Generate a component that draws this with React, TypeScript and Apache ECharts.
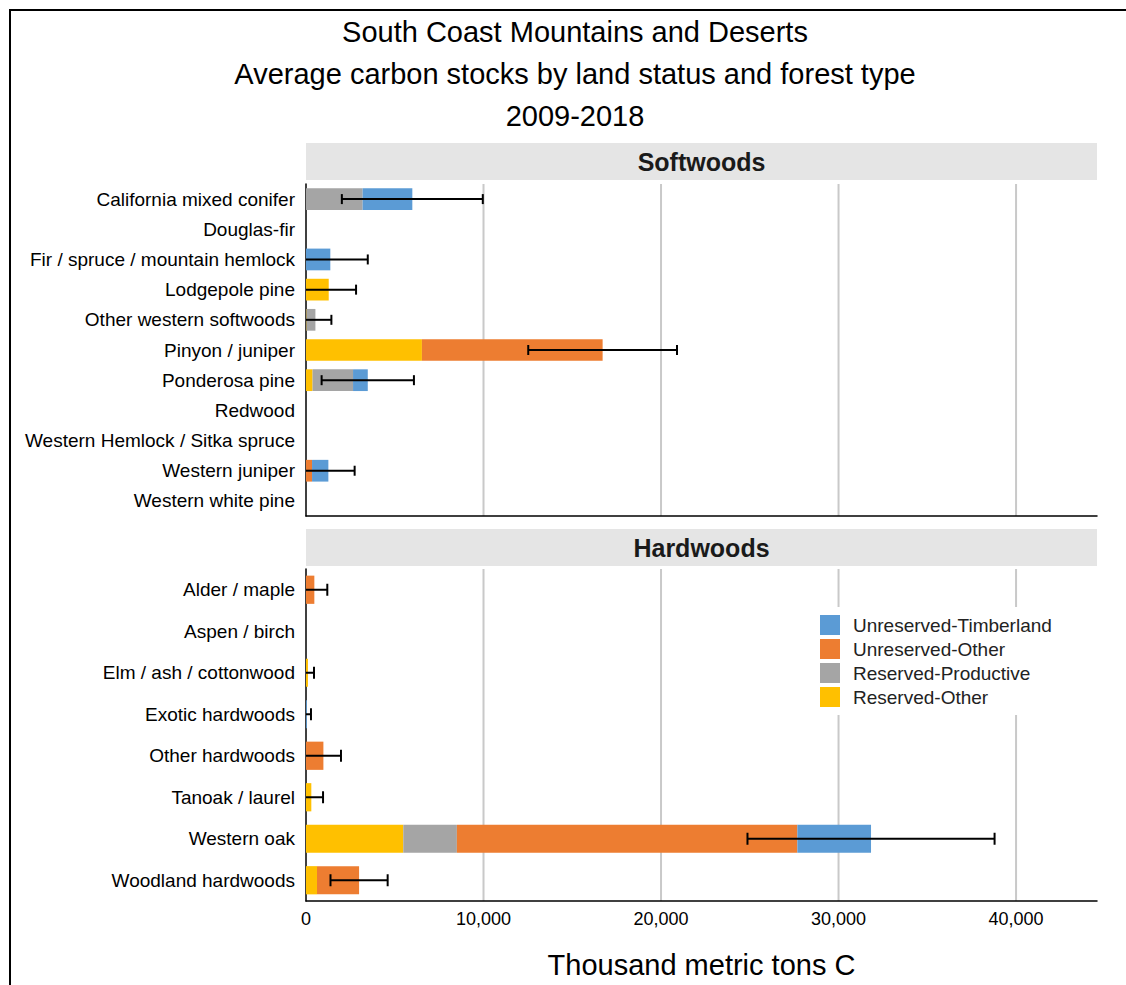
import React, { useEffect, useRef } from "react";
import * as echarts from "echarts";

const seriesNames = ["Reserved-Other", "Reserved-Productive", "Unreserved-Other", "Unreserved-Timberland"];
const legendOrder = ["Unreserved-Timberland", "Unreserved-Other", "Reserved-Productive", "Reserved-Other"];
const colors = ["#FFC000", "#A5A5A5", "#ED7D31", "#5B9BD5"];

const softCats = [
  "California mixed conifer",
  "Douglas-fir",
  "Fir / spruce / mountain hemlock",
  "Lodgepole pine",
  "Other western softwoods",
  "Pinyon / juniper",
  "Ponderosa pine",
  "Redwood",
  "Western Hemlock / Sitka spruce",
  "Western juniper",
  "Western white pine",
];
const softReservedOther = [0, 0, 0, 1280, 30, 6530, 370, 0, 0, 0, 0];
const softReservedProd = [3190, 0, 0, 0, 500, 0, 2280, 0, 0, 0, 0];
const softUnresOther = [0, 0, 0, 0, 0, 10180, 0, 0, 0, 340, 0];
const softTimber = [2800, 0, 1370, 0, 0, 0, 830, 0, 0, 920, 0];
const softErr = [3970, 0, 2110, 1540, 900, 4190, 2600, 0, 0, 1480, 0];

const hardCats = [
  "Alder / maple",
  "Aspen / birch",
  "Elm / ash / cottonwood",
  "Exotic hardwoods",
  "Other hardwoods",
  "Tanoak / laurel",
  "Western oak",
  "Woodland hardwoods",
];
const hardReservedOther = [0, 0, 110, 0, 0, 300, 5480, 620];
const hardReservedProd = [0, 0, 0, 0, 0, 0, 3020, 0];
const hardUnresOther = [470, 0, 0, 0, 980, 0, 19180, 2370];
const hardTimber = [0, 0, 0, 50, 0, 0, 4150, 0];
const hardErr = [730, 0, 340, 230, 990, 660, 6960, 1610];

const xTicks = [0, 10000, 20000, 30000, 40000];
const gridValues = [10000, 20000, 30000, 40000];
const xMax = 44560;

const titleLines = [
  "South Coast Mountains and Deserts",
  "Average carbon stocks by land status and forest type",
  "2009-2018",
];
const panelTitles = ["Softwoods", "Hardwoods"];
const xAxisTitle = "Thousand metric tons C";

const FONT = "Liberation Sans, Arial, sans-serif";

export default function App() {
  const ref = useRef<HTMLDivElement>(null);
  useEffect(() => {
    if (!ref.current) return;
    const chart = echarts.init(ref.current, null, { renderer: "svg" });

    const plotLeft = 306;
    const plotWidth = 791;
    const grids = [
      { top: 184, height: 332 },
      { top: 569, height: 332 },
    ];

    const softStacks = [softReservedOther, softReservedProd, softUnresOther, softTimber];
    const hardStacks = [hardReservedOther, hardReservedProd, hardUnresOther, hardTimber];

    const totals = (stacks: number[][], n: number) =>
      Array.from({ length: n }, (_, i) => stacks.reduce((s, a) => s + a[i], 0));
    const softTot = totals(softStacks, softCats.length);
    const hardTot = totals(hardStacks, hardCats.length);

    const errData = (tot: number[], err: number[]) =>
      tot
        .map((t, i) => (err[i] > 0 ? [i, t - err[i], t + err[i]] : null))
        .filter((d) => d !== null);

    const makeErr = (gi: number, data: any[], cap: number) => ({
      type: "custom",
      xAxisIndex: gi,
      yAxisIndex: gi,
      silent: true,
      z: 10,
      encode: { y: 0, x: [1, 2] },
      data,
      renderItem: (params: any, api: any) => {
        const cat = api.value(0);
        const lowRaw = api.value(1);
        const low = Math.max(0, lowRaw);
        const high = api.value(2);
        const p1 = api.coord([low, cat]);
        const p2 = api.coord([high, cat]);
        const style = { stroke: "#000", lineWidth: 2 };
        const children: any[] = [
          { type: "line", shape: { x1: p1[0], y1: p1[1], x2: p2[0], y2: p2[1] }, style },
          { type: "line", shape: { x1: p2[0], y1: p2[1] - cap / 2, x2: p2[0], y2: p2[1] + cap / 2 }, style },
        ];
        if (lowRaw > 0) {
          children.push({
            type: "line",
            shape: { x1: p1[0], y1: p1[1] - cap / 2, x2: p1[0], y2: p1[1] + cap / 2 },
            style,
          });
        }
        return { type: "group", children };
      },
    });

    const makeGridLines = (gi: number) => ({
      type: "custom",
      xAxisIndex: gi,
      yAxisIndex: gi,
      silent: true,
      z: 0,
      encode: { x: 0 },
      data: gridValues.map((v) => [v]),
      renderItem: (params: any, api: any) => {
        const cs = params.coordSys;
        const x = api.coord([api.value(0), 0])[0];
        return {
          type: "line",
          shape: { x1: x, y1: cs.y, x2: x, y2: cs.y + cs.height },
          style: { stroke: "#c9c9c9", lineWidth: 2 },
        };
      },
    });

    const series: any[] = [makeGridLines(0), makeGridLines(1)];
    seriesNames.forEach((name, k) => {
      series.push({
        name,
        type: "bar",
        stack: "soft",
        xAxisIndex: 0,
        yAxisIndex: 0,
        barWidth: "72%",
        z: 2,
        itemStyle: { color: colors[k] },
        data: softStacks[k],
      });
    });
    seriesNames.forEach((name, k) => {
      series.push({
        name,
        type: "bar",
        stack: "hard",
        xAxisIndex: 1,
        yAxisIndex: 1,
        barWidth: "68%",
        z: 2,
        itemStyle: { color: colors[k] },
        data: hardStacks[k],
      });
    });
    series.push(makeErr(0, errData(softTot, softErr), 10));
    series.push(makeErr(1, errData(hardTot, hardErr), 12));

    const xAxisBase = (gi: number) => ({
      type: "value",
      gridIndex: gi,
      min: xTicks[0],
      max: xMax,
      interval: xTicks[1] - xTicks[0],
      axisLine: { show: true, onZero: false, lineStyle: { color: "#000", width: 1.5 } },
      axisTick: { show: false },
      splitLine: { show: false },
      axisLabel: {
        show: gi === 1,
        fontSize: 18,
        color: "#000",
        fontFamily: FONT,
        margin: 9,
        showMaxLabel: false,
        formatter: (v: number) => (xTicks.includes(v) ? v.toLocaleString("en-US") : ""),
      },
    });

    const yAxisBase = (gi: number, cats: string[]) => ({
      type: "category",
      gridIndex: gi,
      data: cats,
      inverse: true,
      axisLine: { show: true, lineStyle: { color: "#000", width: 1.5 } },
      axisTick: { show: false },
      axisLabel: { fontSize: 19, color: "#000", fontFamily: FONT, margin: 11 },
    });

    const cx = plotLeft + plotWidth / 2;
    const graphic: any[] = [
      {
        type: "rect",
        shape: { x: 10, y: 10, width: 1140, height: 1000 },
        style: { fill: "none", stroke: "#000", lineWidth: 2 },
        silent: true,
      },
    ];
    const titleY = [32, 74, 116];
    titleLines.forEach((t, i) => {
      graphic.push({
        type: "text",
        x: 575,
        y: titleY[i],
        style: {
          text: t,
          fontSize: 29,
          fontFamily: FONT,
          fill: "#000",
          textAlign: "center",
          textVerticalAlign: "middle",
        },
      });
    });
    const stripTops = [143, 529];
    panelTitles.forEach((t, i) => {
      graphic.push({
        type: "rect",
        shape: { x: plotLeft, y: stripTops[i], width: plotWidth, height: 37 },
        style: { fill: "#e5e5e5" },
        silent: true,
      });
      graphic.push({
        type: "text",
        x: cx,
        y: stripTops[i] + 19,
        style: {
          text: t,
          fontSize: 25,
          fontWeight: "bold",
          fontFamily: FONT,
          fill: "#1a1a1a",
          textAlign: "center",
          textVerticalAlign: "middle",
        },
      });
    });
    graphic.push({
      type: "text",
      x: cx,
      y: 965,
      style: {
        text: xAxisTitle,
        fontSize: 29,
        fontFamily: FONT,
        fill: "#000",
        textAlign: "center",
        textVerticalAlign: "middle",
      },
    });

    chart.setOption({
      animation: false,
      backgroundColor: "#fff",
      grid: grids.map((g) => ({
        left: plotLeft,
        width: plotWidth,
        top: g.top,
        height: g.height,
        containLabel: false,
      })),
      xAxis: [xAxisBase(0), xAxisBase(1)],
      yAxis: [yAxisBase(0, softCats), yAxisBase(1, hardCats)],
      legend: {
        data: legendOrder,
        orient: "vertical",
        left: 812,
        top: 607,
        icon: "rect",
        itemWidth: 20,
        itemHeight: 20,
        itemGap: 4,
        padding: [8, 8, 8, 8],
        backgroundColor: "#fff",
        selectedMode: false,
        textStyle: { fontSize: 19, color: "#222", fontFamily: FONT, padding: [0, 0, 0, 8] },
        z: 20,
      },
      graphic,
      series,
    });

    return () => chart.dispose();
  }, []);

  return (
    <div
      ref={ref}
      style={{ position: "absolute", left: 0, top: 0, width: 1126, height: 985 }}
    />
  );
}
